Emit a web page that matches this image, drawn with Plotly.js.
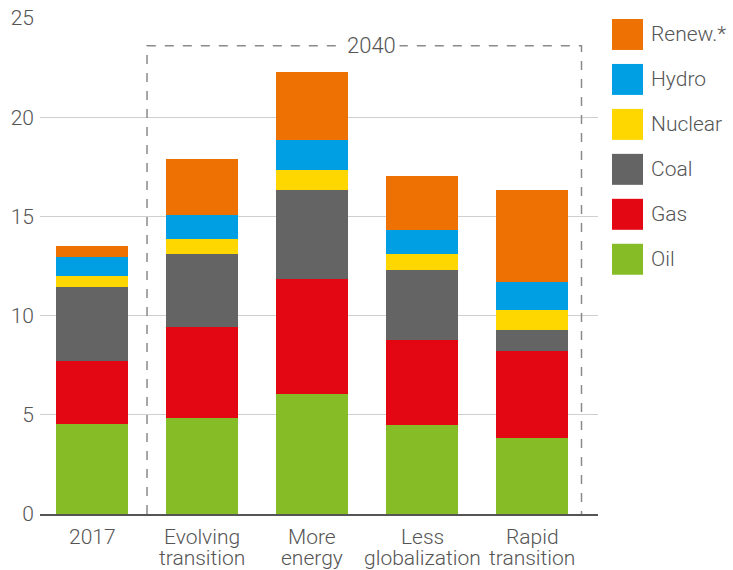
<!DOCTYPE html>
<html>
<head>
<meta charset="utf-8">
<script src="https://cdn.plot.ly/plotly-3.0.1.min.js"></script>
<style>html,body{margin:0;padding:0;background:#fff;}#chart{width:733px;height:570px;}</style>
</head>
<body>
<div id="chart"></div>
<script>
const categories = ["2017", "Evolving<br>transition", "More<br>energy", "Less<br>globalization", "Rapid<br>transition"];
const seriesNames = ["Oil", "Gas", "Coal", "Nuclear", "Hydro", "Renew.*"];
const seriesColors = ["#86BC25", "#E30613", "#646464", "#FFD700", "#009FE3", "#EE7203"];
const oil     = [4.55, 4.83, 6.04, 4.48, 3.82];
const gas     = [3.15, 4.62, 5.79, 4.30, 4.39];
const coal    = [3.73, 3.64, 4.52, 3.51, 1.04];
const nuclear = [0.55, 0.75, 0.97, 0.80, 1.01];
const hydro   = [0.95, 1.25, 1.55, 1.21, 1.44];
const renew   = [0.57, 2.78, 3.42, 2.76, 4.65];
const seriesValues = [oil, gas, coal, nuclear, hydro, renew];
const yTicks = [0, 5, 10, 15, 20, 25];
const groupLabel = "2040";

const fontFam = "Roboto, 'Liberation Sans', sans-serif";
const txtColor = "#555555";
const fs = 21;
const plotTop = 18, plotBottom = 514.5, plotH = plotBottom - plotTop;
const toPaperY = (py) => (plotBottom - py) / plotH;

const traces = seriesNames.map((n, i) => ({
  type: "bar",
  name: n,
  x: categories,
  y: seriesValues[i],
  marker: {color: seriesColors[i], line: {width: 0}},
  hoverinfo: "x+y+name",
  showlegend: false
}));

const shapes = [];
const annotations = [];

// category labels with tight line spacing (as in the reference)
categories.forEach((c, ci) => {
  c.split("<br>").forEach((line, li) => {
    annotations.push({
      xref: "x", yref: "paper", x: ci, y: toPaperY(537.5 + li * 21),
      xanchor: "center", yanchor: "middle",
      text: line, showarrow: false,
      font: {family: fontFam, size: fs, color: txtColor, weight: 300}
    });
  });
});

// custom legend (top item = last series)
const legendOrder = seriesNames.map((n, i) => i).reverse();
legendOrder.forEach((si, k) => {
  const top = 19 + k * 45;
  shapes.push({
    type: "rect", xref: "paper", yref: "paper",
    x0: (612 - 40) / 558, x1: (643 - 40) / 558,
    y0: toPaperY(top + 31), y1: toPaperY(top),
    fillcolor: seriesColors[si], line: {width: 0}
  });
  annotations.push({
    xref: "paper", yref: "paper",
    x: (649 - 40) / 558, y: toPaperY(top + 15.5),
    xanchor: "left", yanchor: "middle",
    text: seriesNames[si], showarrow: false,
    font: {family: fontFam, size: fs, color: txtColor, weight: 300}
  });
});

// dashed 2040 box (open at the bottom, which is the axis)
shapes.push({
  type: "path", xref: "x", yref: "y",
  path: "M 0.5 0 L 0.5 23.6 L 4.45 23.6 L 4.45 0",
  line: {color: "#8a8a8a", width: 1.5, dash: "dash"},
  layer: "above"
});
annotations.push({
  xref: "x", yref: "y", x: 2.54, y: 23.6,
  xanchor: "center", yanchor: "middle",
  text: groupLabel, showarrow: false, bgcolor: "#ffffff", borderpad: 3,
  font: {family: fontFam, size: fs + 1, color: txtColor, weight: 300}
});

const layout = {
  width: 733, height: 570,
  margin: {l: 40, r: 135, t: plotTop, b: 570 - plotBottom, pad: 0},
  paper_bgcolor: "#ffffff", plot_bgcolor: "#ffffff",
  barmode: "stack",
  bargap: 0.345,
  showlegend: false,
  font: {family: fontFam, color: txtColor, size: fs, weight: 300},
  xaxis: {
    type: "category",
    range: [-0.473, 4.6],
    showgrid: false,
    showline: true, linecolor: "#555555", linewidth: 2,
    ticks: "", showticklabels: false,
    fixedrange: true
  },
  yaxis: {
    range: [0, 25],
    tickvals: yTicks,
    ticktext: yTicks.map(String),
    showgrid: true, gridcolor: "#cfcfcf", gridwidth: 1,
    zeroline: false, showline: false,
    ticks: "", ticklabelstandoff: 5,
    tickfont: {family: fontFam, size: fs, color: txtColor, weight: 300},
    fixedrange: true
  },
  shapes: shapes,
  annotations: annotations
};

Plotly.newPlot("chart", traces, layout, {displayModeBar: false, staticPlot: true});
</script>
</body>
</html>
